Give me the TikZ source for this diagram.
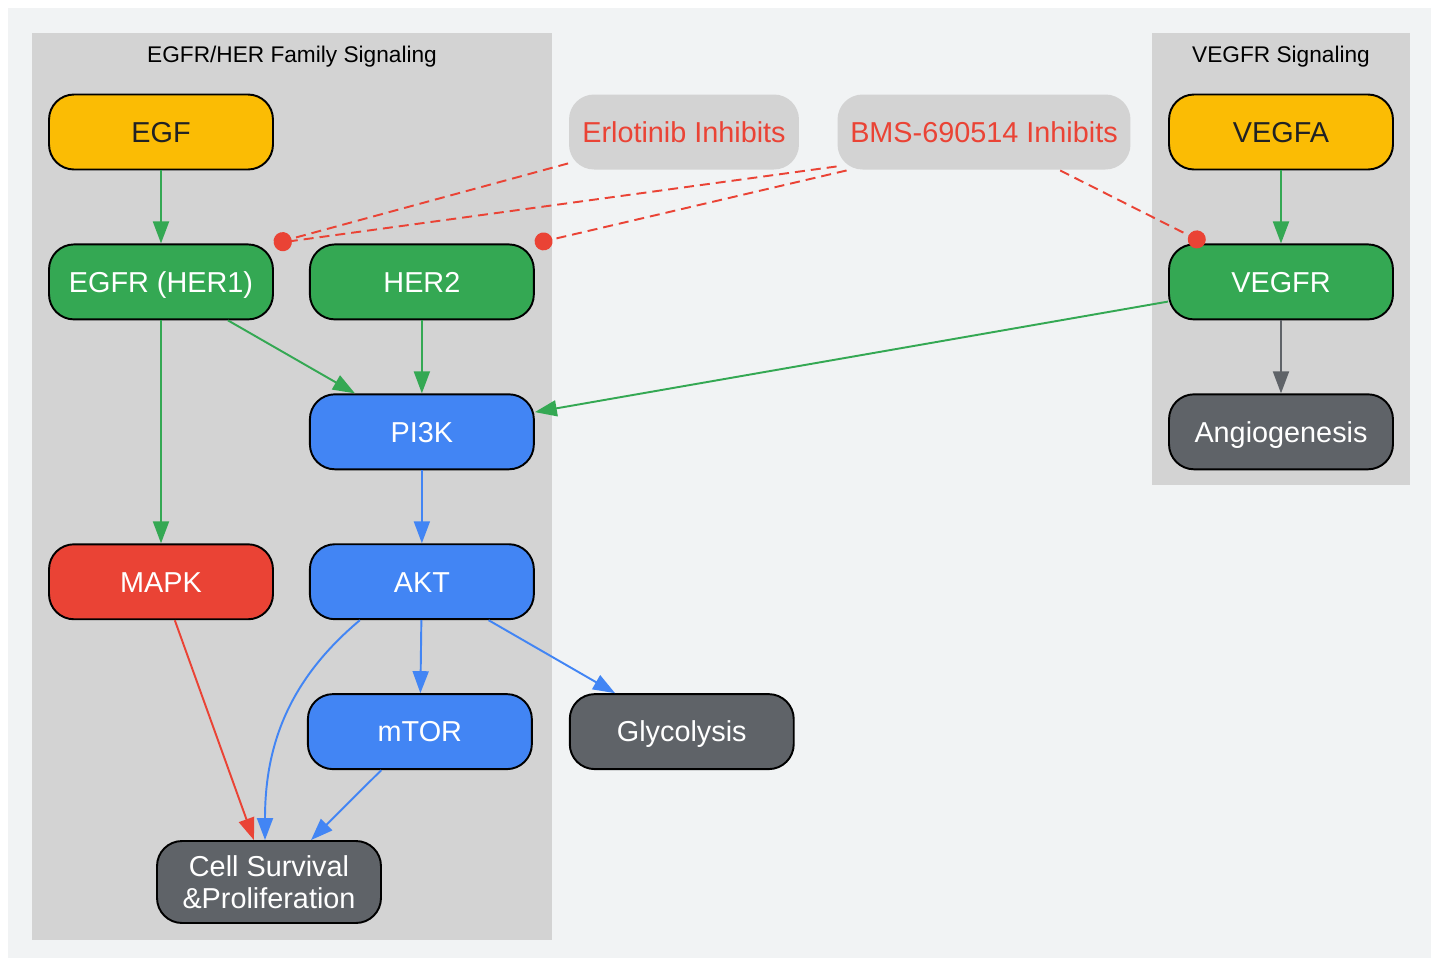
\documentclass[tikz,border=0pt]{standalone}
\usepackage{fontspec}
\setmainfont{Liberation Sans}
\usetikzlibrary{positioning, arrows.meta}

\definecolor{pageBg}{HTML}{F1F3F4}
\definecolor{clusterBg}{HTML}{D3D3D3}
\definecolor{gYellow}{HTML}{FBBC04}
\definecolor{gGreen}{HTML}{34A853}
\definecolor{gBlue}{HTML}{4285F4}
\definecolor{gRed}{HTML}{EA4335}
\definecolor{gGray}{HTML}{5F6368}
\definecolor{gInk}{HTML}{202124}

\begin{document}
\begin{tikzpicture}[x=0.02cm, y=-0.02cm, node distance=1.46cm, auto,
    box/.style={draw, line width=1.1pt, rounded corners=0.5cm, minimum width=4.48cm,
      minimum height=1.5cm, align=center, font=\fontsize{16.4}{19}\selectfont,
      text height=15.3pt, text depth=3.5pt},
    ligand/.style={box, fill=gYellow, text=gInk},
    receptor/.style={box, fill=gGreen, text=white},
    kinase/.style={box, fill=gBlue, text=white},
    outcome/.style={box, fill=gGray, text=white},
    drug/.style={box, draw=none, fill=clusterBg, text=gRed},
    cluster/.style={fill=clusterBg},
    clusterlabel/.style={font=\fontsize{12.9}{15}\selectfont, text=black},
    link/.style={line width=1.1pt, -{Triangle[length=0.44cm, width=0.32cm]}},
    block/.style={line width=1.1pt, gRed, dash pattern=on 0.2cm off 0.12cm, -{Circle[length=0.36cm]}}]

    \useasboundingbox (0,0) rectangle (1431,958);
    \fill[pageBg] (8,8) rectangle (1431,958);

    % clusters
    \fill[cluster] (32,33) rectangle (552,940);
    \node[clusterlabel] (egfrlabel) at (292,57) {EGFR/HER Family Signaling};
    \fill[cluster] (1152,33) rectangle (1410,485);
    \node[clusterlabel] (vegfrlabel) at (1281,57) {VEGFR Signaling};

    % EGFR/HER family
    \node[ligand] (egf) at (161,132) {EGF};
    \node[receptor, below=of egf] (egfr) {EGFR (HER1)};
    \node[receptor, right=0.7cm of egfr] (her2) {HER2};
    \node[kinase, below=of her2] (pi3k) {PI3K};
    \node[kinase, below=of pi3k] (akt) {AKT};
    \node[kinase, below=of akt, xshift=-0.04cm] (mtor) {mTOR};
    \node[box, fill=gRed, text=white, below=4.46cm of egfr] (mapk) {MAPK};
    \node[outcome, minimum height=1.64cm, text height=, text depth=] (cell) at (269,882) {Cell Survival\\[-1pt]\&Proliferation};
    \node[outcome, right=0.72cm of mtor] (glyco) {Glycolysis};

    % inhibitors
    \node[drug, minimum width=4.6cm] (erlo) at (684,132) {Erlotinib Inhibits};
    \node[drug, minimum width=5.86cm] (bms) at (984,132) {BMS-690514 Inhibits};

    % VEGFR
    \node[ligand] (vegfa) at (1281,132) {VEGFA};
    \node[receptor, below=of vegfa] (vegfr) {VEGFR};
    \node[outcome, below=of vegfr] (angio) {Angiogenesis};

    \draw[link, gGreen] (egf) -- (egfr);
    \draw[link, gGreen] (egfr) -- (pi3k);
    \draw[link, gGreen] (egfr) -- (mapk);
    \draw[link, gGreen] (her2) -- (pi3k);
    \draw[link, gGreen] (vegfa) -- (vegfr);
    \draw[link, gGreen] (vegfr) -- (pi3k);
    \draw[link, gGray] (vegfr) -- (angio);
    \draw[link, gBlue] (pi3k) -- (akt);
    \draw[link, gBlue] (akt) -- (mtor);
    \draw[link, gBlue] (akt) -- (glyco);
    \draw[link, gBlue] ([xshift=-1.24cm]akt.south) to[out=-140, in=90] ([xshift=-0.08cm]cell.north);
    \draw[link, gBlue] (mtor) -- (cell);
    \draw[link, gRed] (mapk) -- (cell);

    \draw[block] (erlo) -- (egfr.north east);
    \draw[block] ([yshift=0.08cm]bms.south west) -- (egfr.north east);
    \draw[block] ([xshift=0.2cm]bms.south west) -- (her2.north east);
    \draw[block] (bms) -- (vegfr);
\end{tikzpicture}
\end{document}
